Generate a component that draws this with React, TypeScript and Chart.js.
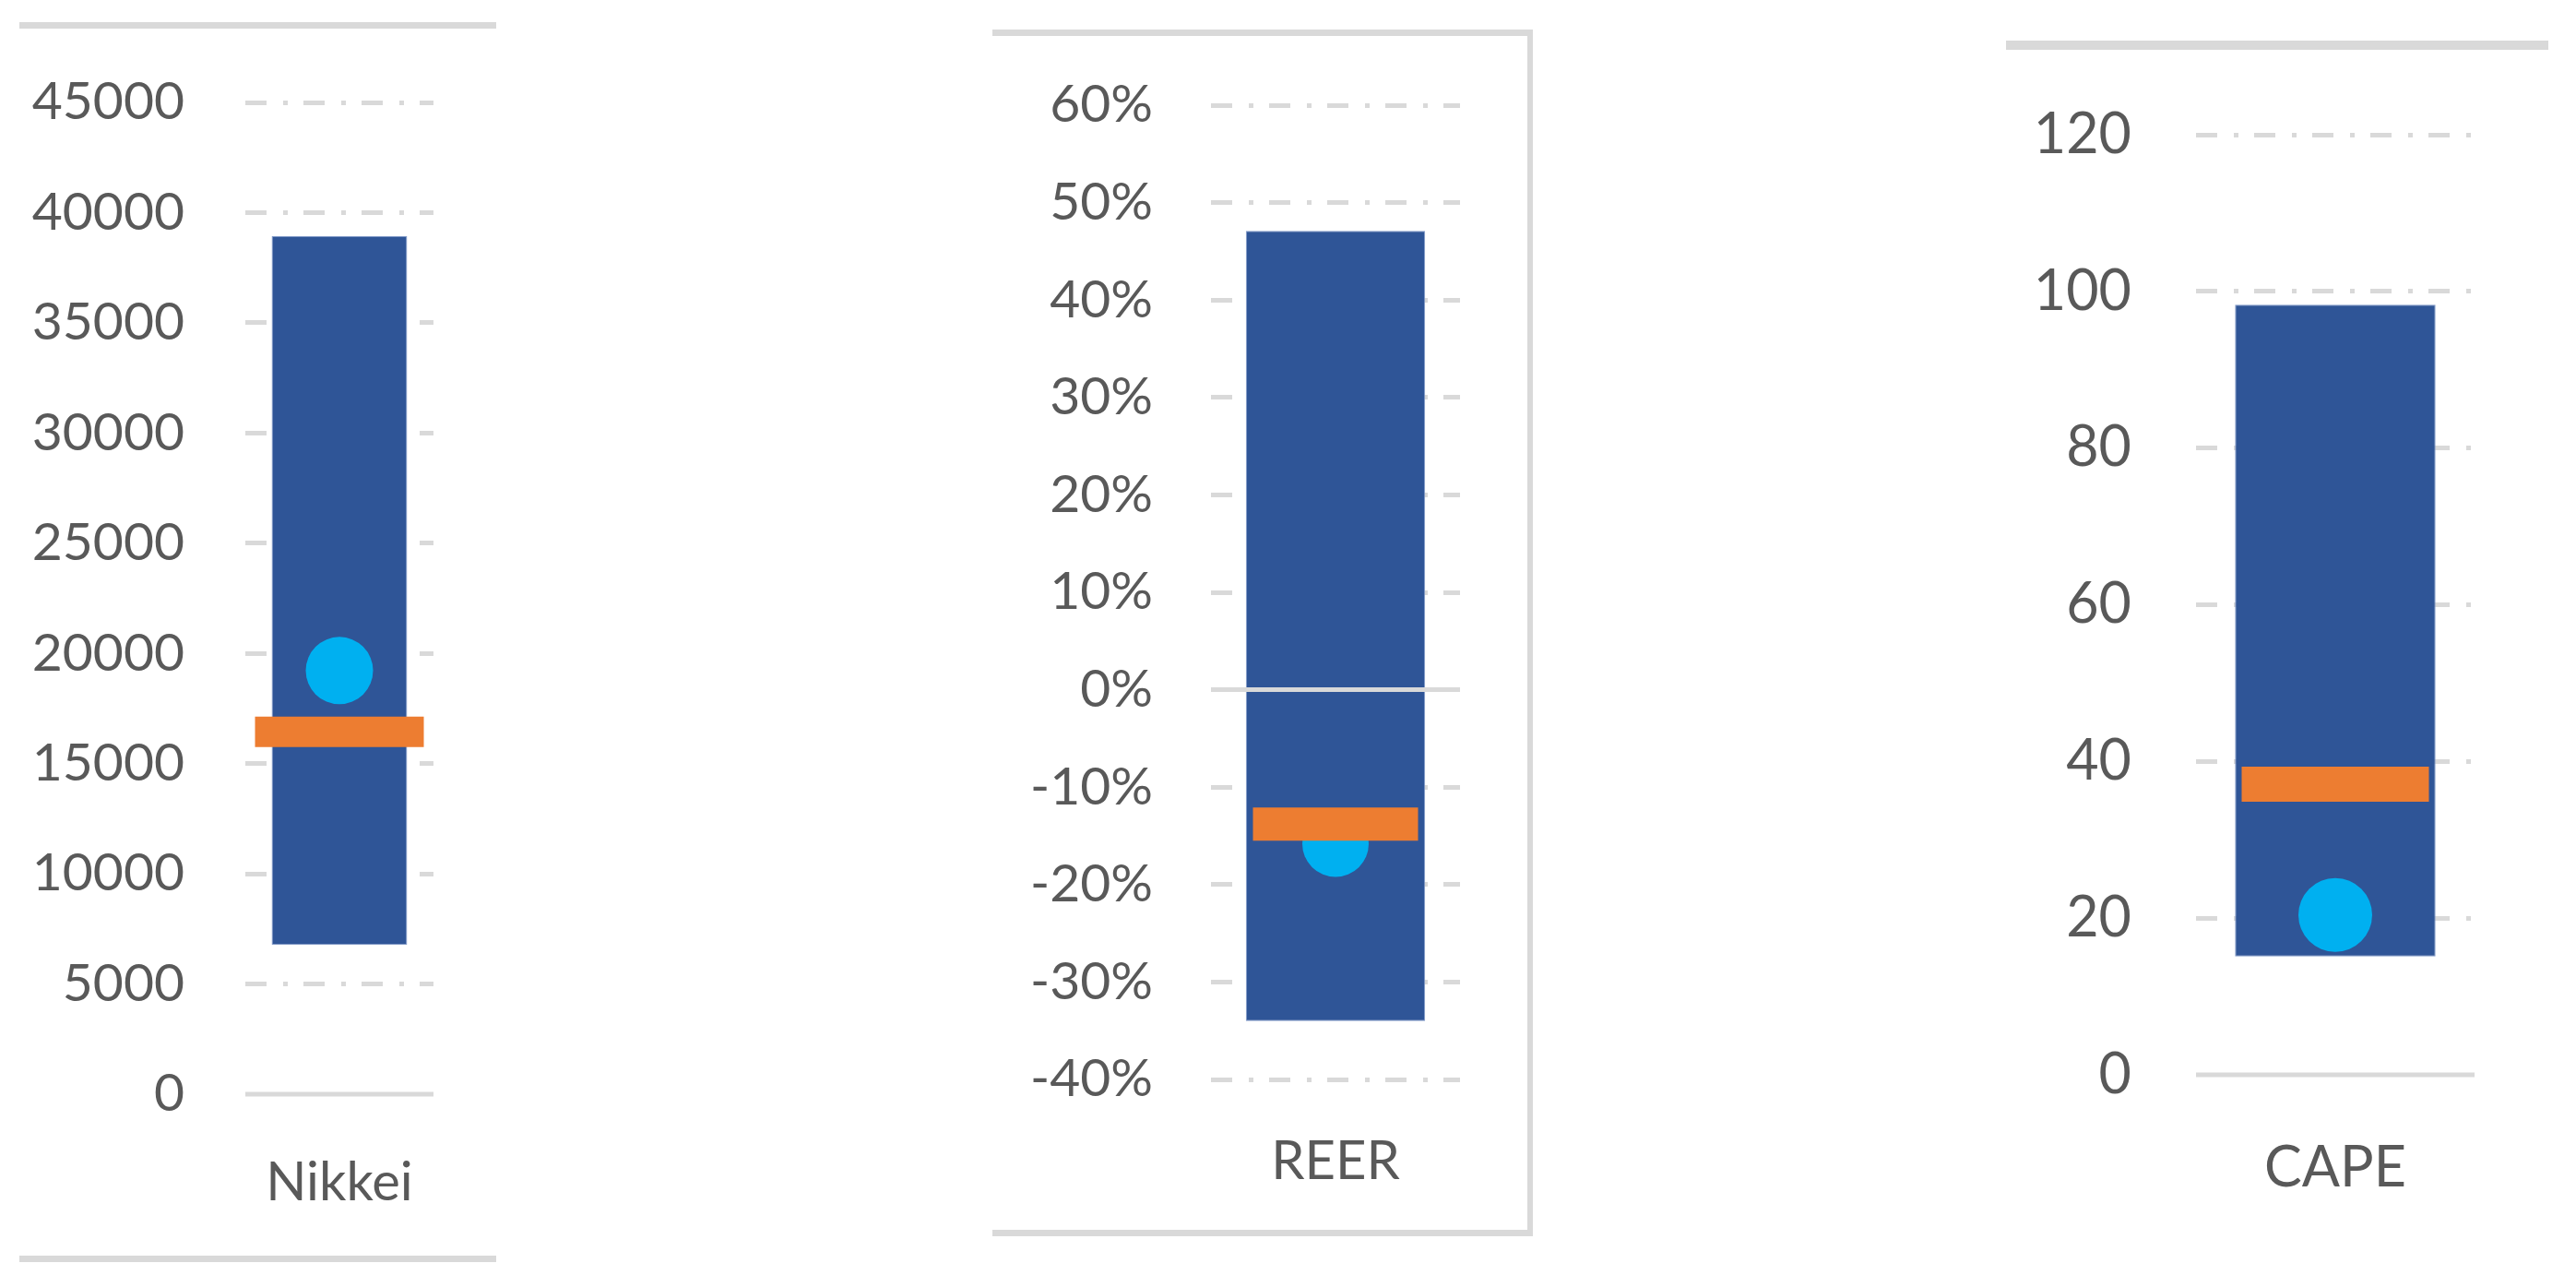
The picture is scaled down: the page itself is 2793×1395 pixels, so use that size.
import React, { useEffect, useRef } from 'react';
import { Chart, registerables } from 'chart.js';

Chart.register(...registerables);

// ---- data ----
const categories = ['Nikkei', 'REER', 'CAPE'];
const rangeLow = [6770, -34.0, 15.1];
const rangeHigh = [38930, 47.1, 98.3];
const latestValue = [19220, -15.8, 20.4];
const medianValue = [16440, -13.8, 37.1];
const axisMin = [0, -40, 0];
const axisMax = [45000, 60, 120];
const axisStep = [5000, 10, 20];
const tickSuffix = ['', '%', ''];

// ---- layout / style (page pixels) ----
const PAGE_W = 2793;
const PAGE_H = 1395;
const LAYOUT = [
  { left: 0, width: 560, areaLeft: 266, areaRight: 470, areaTop: 111, areaBottom: 1186, tickGap: 66, tickFont: 57, catFont: 58, catCenter: 1274, dot: 36.5, markHalf: 91.5, markThick: 33 },
  { left: 1080, width: 575, areaLeft: 1313, areaRight: 1583, areaTop: 114, areaBottom: 1170, tickGap: 63, tickFont: 57, catFont: 58, catCenter: 1251, dot: 36, markHalf: 89.5, markThick: 36 },
  { left: 2180, width: 580, areaLeft: 2381, areaRight: 2683, areaTop: 146, areaBottom: 1165, tickGap: 70, tickFont: 61, catFont: 61, catCenter: 1258, dot: 40, markHalf: 101.5, markThick: 38 },
];
const FRAME_LINES: number[][] = [
  [21, 24, 517, 7],
  [21, 1361, 517, 7],
  [1076, 32, 586, 7],
  [1656, 32, 6, 1308],
  [1076, 1333, 586, 7],
  [2175, 44, 588, 10],
];
const TEXT_COLOR = '#595959';
const GRID_COLOR = '#d9d9d9';
const BAR_COLOR = '#2F5597';
const ORANGE = '#ED7D31';
const CYAN = '#00B0F0';
const FONT = 'Lato, "Open Sans", "DejaVu Sans", sans-serif';

const zeroLine = {
  id: 'zeroLine',
  afterDatasetDraw(chart: any, args: any) {
    if (args.meta.type !== 'bar') return;
    const y = chart.scales.y.getPixelForValue(0);
    const { left, right } = chart.chartArea;
    const ctx = chart.ctx;
    ctx.save();
    ctx.strokeStyle = GRID_COLOR;
    ctx.lineWidth = 5;
    ctx.beginPath();
    ctx.moveTo(left, y);
    ctx.lineTo(right, y);
    ctx.stroke();
    ctx.restore();
  },
};

function Panel({ i }: { i: number }) {
  const ref = useRef<HTMLCanvasElement | null>(null);
  const L = LAYOUT[i];
  useEffect(() => {
    if (!ref.current) return;
    const localLeft = L.areaLeft - L.left;
    const localRight = L.areaRight - L.left;
    const lh = L.catFont * 1.2;
    const catPad = L.catCenter - L.areaBottom - lh / 2;
    const xh = catPad + lh;
    const suffix = tickSuffix[i];
    const chart = new Chart(ref.current, {
      type: 'bar',
      data: {
        labels: [categories[i]],
        datasets: [
          {
            type: 'line',
            label: 'median',
            data: [medianValue[i]],
            order: 0,
            showLine: false,
            pointStyle: 'line',
            pointRadius: L.markHalf,
            pointHoverRadius: L.markHalf,
            pointBorderWidth: L.markThick,
            pointHoverBorderWidth: L.markThick,
            pointBorderColor: ORANGE,
            pointBackgroundColor: ORANGE,
            clip: false,
          } as any,
          {
            type: 'line',
            label: 'latest',
            data: [latestValue[i]],
            order: 1,
            showLine: false,
            pointStyle: 'circle',
            pointRadius: L.dot,
            pointHoverRadius: L.dot,
            pointBorderWidth: 0,
            pointBackgroundColor: CYAN,
            pointBorderColor: CYAN,
            clip: false,
          } as any,
          {
            type: 'bar',
            label: 'range',
            data: [[rangeLow[i], rangeHigh[i]]],
            order: 2,
            backgroundColor: BAR_COLOR,
            borderColor: '#7F98C8',
            borderWidth: 1,
            borderSkipped: false,
            barPercentage: 0.72,
            categoryPercentage: 1,
          } as any,
        ],
      },
      options: {
        responsive: false,
        animation: false,
        devicePixelRatio: 1,
        events: [],
        layout: {
          autoPadding: false,
          padding: {
            left: 0,
            right: L.width - localRight,
            top: L.areaTop,
            bottom: PAGE_H - L.areaBottom - xh,
          },
        },
        plugins: { legend: { display: false }, tooltip: { enabled: false } },
        scales: {
          x: {
            offset: true,
            grid: { display: false },
            border: { display: false },
            ticks: {
              padding: catPad,
              color: TEXT_COLOR,
              maxRotation: 0,
              font: { family: FONT, size: L.catFont },
            },
            afterFit: (s: any) => {
              s.height = xh;
            },
          },
          y: {
            min: axisMin[i],
            max: axisMax[i],
            ticks: {
              stepSize: axisStep[i],
              padding: L.tickGap,
              color: TEXT_COLOR,
              font: { family: FONT, size: L.tickFont },
              callback: (v: any) => String(v) + suffix,
            },
            grid: {
              color: (c: any) => (c.tick && c.tick.value === 0 ? 'rgba(0,0,0,0)' : GRID_COLOR),
              lineWidth: 5,
              drawTicks: false,
            },
            border: { display: false, dash: [23, 18, 5, 17] },
            afterFit: (s: any) => {
              s.width = localLeft;
            },
          },
        },
      } as any,
      plugins: [zeroLine],
    });
    return () => chart.destroy();
  }, [i]);
  return (
    <canvas
      ref={ref}
      width={L.width}
      height={PAGE_H}
      style={{ position: 'absolute', left: L.left, top: 0, width: L.width, height: PAGE_H }}
    />
  );
}

export default function App() {
  return (
    <div
      style={{
        position: 'absolute',
        left: 0,
        top: 0,
        width: PAGE_W,
        height: PAGE_H,
        background: '#ffffff',
        overflow: 'hidden',
      }}
    >
      {FRAME_LINES.map((r, k) => (
        <div
          key={k}
          style={{ position: 'absolute', left: r[0], top: r[1], width: r[2], height: r[3], background: GRID_COLOR }}
        />
      ))}
      {LAYOUT.map((_, i) => (
        <Panel key={i} i={i} />
      ))}
    </div>
  );
}
